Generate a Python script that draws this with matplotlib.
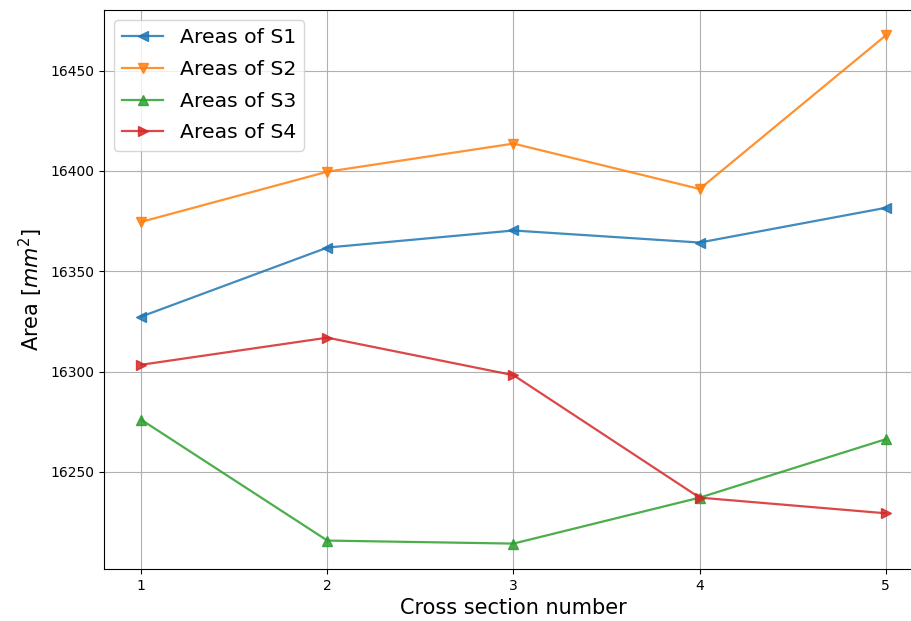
import numpy as np
import matplotlib
matplotlib.use('Agg')
import matplotlib.pyplot as plt

# cross-section areas for each surface
sections = [1, 2, 3, 4, 5]
areas_s1 = [16327.4, 16361.8, 16370.3, 16364.3, 16381.6]
areas_s2 = [16374.6, 16399.6, 16413.6, 16391.0, 16467.5]
areas_s3 = [16276.0, 16215.8, 16214.3, 16237.2, 16266.3]
areas_s4 = [16303.4, 16316.9, 16298.2, 16237.2, 16229.4]

series = [
    (areas_s1, '<', 'Areas of S1'),
    (areas_s2, 'v', 'Areas of S2'),
    (areas_s3, '^', 'Areas of S3'),
    (areas_s4, '>', 'Areas of S4'),
]

fig = plt.figure(figsize=(9.12, 6.21), dpi=100)
ax = fig.add_axes([104 / 912, 1 - 569 / 621, (923 - 104) / 912, (569 - 10) / 621])

for vals, mk, lab in series:
    ax.plot(sections, vals, marker=mk, linewidth=1.6, markersize=6.5, alpha=0.85, label=lab)

ax.set_xticks(sections)
ax.grid(True)
ax.set_xlabel('Cross section number', fontsize=15)
ax.set_ylabel('Area [$mm^2$]', fontsize=15)
ax.legend(fontsize=14.7, loc='upper left', labelspacing=0.62)

fig.savefig('out.png', dpi=100)
